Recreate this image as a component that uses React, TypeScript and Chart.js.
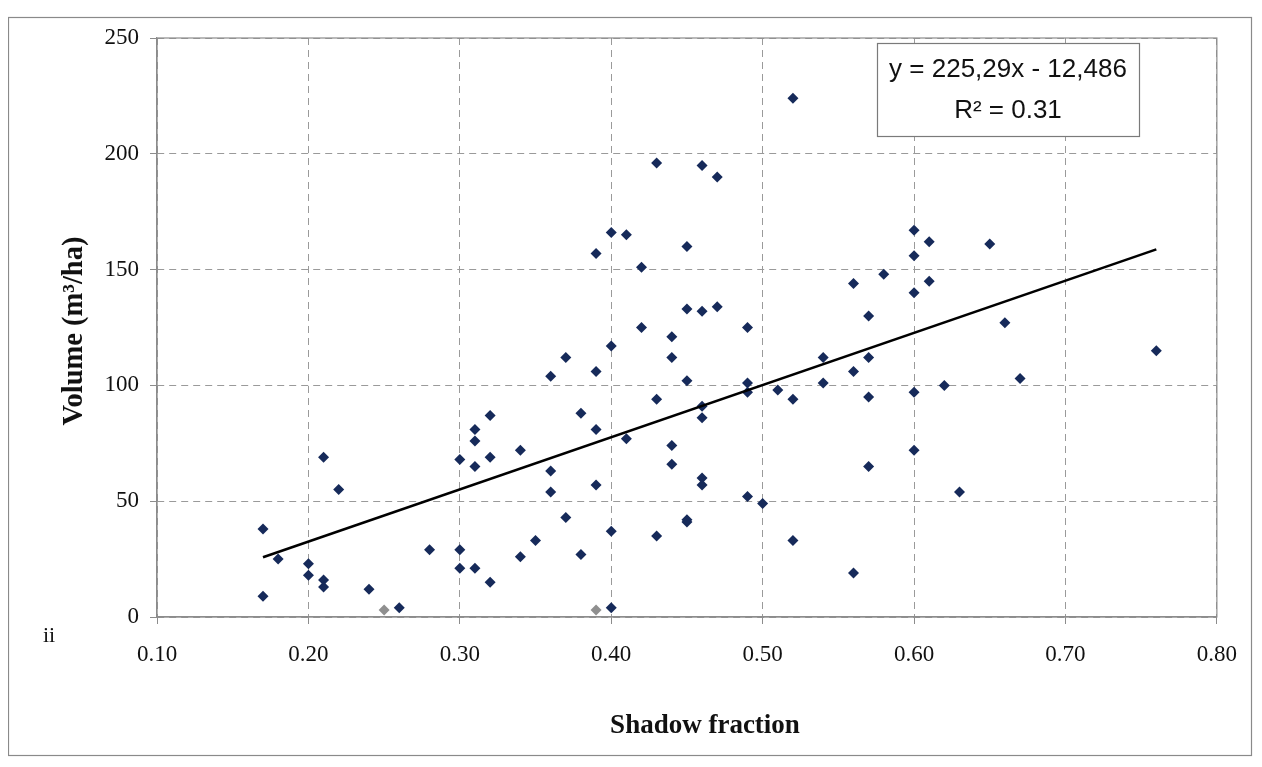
import React, { useEffect, useRef } from "react";
import { Chart, registerables } from "chart.js";

Chart.register(...registerables);

// Shadow fraction (x) and volume m3/ha (y) — main sample
const shadowFraction = [
  0.17, 0.17, 0.18, 0.20, 0.20, 0.21, 0.21, 0.21, 0.22, 0.24, 0.26, 0.28,
  0.30, 0.30, 0.30, 0.31, 0.31, 0.31, 0.31, 0.32, 0.32, 0.32, 0.34, 0.34,
  0.35, 0.36, 0.36, 0.36, 0.37, 0.37, 0.38, 0.38, 0.39, 0.39, 0.39, 0.39,
  0.40, 0.40, 0.40, 0.40, 0.41, 0.41, 0.42, 0.42, 0.43, 0.43, 0.43, 0.44,
  0.44, 0.44, 0.44, 0.45, 0.45, 0.45, 0.45, 0.45, 0.46, 0.46, 0.46, 0.46,
  0.46, 0.46, 0.47, 0.47, 0.49, 0.49, 0.49, 0.49, 0.50, 0.51, 0.52, 0.52,
  0.52, 0.54, 0.54, 0.56, 0.56, 0.56, 0.57, 0.57, 0.57, 0.57, 0.58, 0.60,
  0.60, 0.60, 0.60, 0.60, 0.61, 0.61, 0.62, 0.63, 0.65, 0.66, 0.67, 0.76,
];
const volume = [
  38, 9, 25, 23, 18, 69, 16, 13, 55, 12, 4, 29,
  68, 29, 21, 81, 76, 65, 21, 87, 69, 15, 72, 26,
  33, 104, 63, 54, 112, 43, 88, 27, 157, 106, 81, 57,
  166, 117, 37, 4, 165, 77, 151, 125, 196, 94, 35, 121,
  112, 74, 66, 160, 133, 102, 41, 42, 195, 132, 91, 86,
  60, 57, 190, 134, 125, 101, 97, 52, 49, 98, 224, 94,
  33, 112, 101, 144, 106, 19, 130, 112, 95, 65, 148, 167,
  156, 140, 97, 72, 162, 145, 100, 54, 161, 127, 103, 115,
];
// grey points
const greyShadow = [0.25, 0.39];
const greyVolume = [3, 3];

// regression shown in the box
const slope = 225.29;
const intercept = -12.486;
const trendRange = [0.17, 0.76];

const xTicks = [0.1, 0.2, 0.3, 0.4, 0.5, 0.6, 0.7, 0.8];
const yTicks = [0, 50, 100, 150, 200, 250];

const eqLine1 = "y = 225,29x - 12,486";
const eqLine2 = "R² = 0.31";
const xTitle = "Shadow fraction";
const yTitle = "Volume (m³/ha)";

const SERIF = "'Liberation Serif', 'Times New Roman', serif";
const SANS = "'Liberation Sans', Arial, sans-serif";

export default function App() {
  const ref = useRef<HTMLCanvasElement | null>(null);

  useEffect(() => {
    if (!ref.current) return;
    const blue = shadowFraction.map((x, i) => ({ x, y: volume[i] }));
    const grey = greyShadow.map((x, i) => ({ x, y: greyVolume[i] }));
    const trend = trendRange.map((x) => ({ x, y: slope * x + intercept }));

    const overlay = {
      id: "overlay",
      beforeDraw(chart: any) {
        const ctx = chart.ctx;
        ctx.save();
        ctx.fillStyle = "#ffffff";
        ctx.fillRect(0, 0, chart.width, chart.height);
        ctx.strokeStyle = "#8a8a8a";
        ctx.lineWidth = 1.2;
        ctx.strokeRect(0.5, 9.5, 1243, 738);
        ctx.restore();
      },
      afterDatasetsDraw(chart: any) {
        const ctx = chart.ctx;
        const a = chart.chartArea;
        ctx.save();
        // plot border
        ctx.strokeStyle = "#8c8c8c";
        ctx.lineWidth = 1.2;
        ctx.strokeRect(a.left, a.top, a.right - a.left, a.bottom - a.top);
        // equation box
        ctx.fillStyle = "#ffffff";
        ctx.fillRect(869, 35, 262, 93);
        ctx.strokeStyle = "#7a7a7a";
        ctx.lineWidth = 1.2;
        ctx.strokeRect(869.5, 35.5, 262, 93);
        ctx.fillStyle = "#111111";
        ctx.textAlign = "center";
        ctx.textBaseline = "middle";
        ctx.font = `26px ${SANS}`;
        ctx.fillText(eqLine1, 1000, 62);
        ctx.fillText(eqLine2, 1000, 103);
        // axis titles
        ctx.font = `bold 27px ${SERIF}`;
        ctx.fillText(xTitle, 697, 718);
        ctx.save();
        ctx.translate(67, 323);
        ctx.rotate(-Math.PI / 2);
        ctx.font = `bold 28.5px ${SERIF}`;
        ctx.fillText(yTitle, 0, 0);
        ctx.restore();
        // stray scan mark
        ctx.font = `22px ${SERIF}`;
        ctx.fillText("ii", 41, 628);
        ctx.restore();
      },
    };

    const grid = {
      color: "#9a9a9a",
      lineWidth: 1,
      tickLength: 7,
      tickColor: "#8c8c8c",
      tickBorderDash: [],
    };

    const chart = new Chart(ref.current, {
      type: "scatter",
      data: {
        datasets: [
          {
            type: "line",
            data: trend,
            borderColor: "#000000",
            borderWidth: 2.6,
            pointRadius: 0,
            fill: false,
            order: 0,
          } as any,
          {
            data: blue,
            pointStyle: "rectRot",
            pointRadius: 5.5,
            pointBackgroundColor: "#162a5a",
            pointBorderColor: "#162a5a",
            pointBorderWidth: 0,
            order: 1,
          },
          {
            data: grey,
            pointStyle: "rectRot",
            pointRadius: 5.5,
            pointBackgroundColor: "#8f8f8f",
            pointBorderColor: "#8f8f8f",
            pointBorderWidth: 0,
            order: 2,
          },
        ],
      },
      options: {
        animation: false,
        responsive: false,
        maintainAspectRatio: false,
        events: [],
        layout: { padding: { top: 30, right: 29, left: 0, bottom: 0 } },
        plugins: { legend: { display: false }, tooltip: { enabled: false } },
        scales: {
          x: {
            type: "linear",
            min: 0.1,
            max: 0.8,
            afterFit: (s: any) => {
              s.height = 150;
            },
            afterBuildTicks: (s: any) => {
              s.ticks = xTicks.map((v) => ({ value: v }));
            },
            ticks: {
              color: "#111111",
              font: { family: SERIF, size: 23 },
              padding: 17,
              maxRotation: 0,
              callback: (v: any) => Number(v).toFixed(2),
            },
            grid: { ...grid },
            border: { display: true, color: "#8c8c8c", width: 1.2, dash: [7, 5] },
          } as any,
          y: {
            type: "linear",
            min: 0,
            max: 250,
            afterFit: (s: any) => {
              s.width = 149;
            },
            afterBuildTicks: (s: any) => {
              s.ticks = yTicks.map((v) => ({ value: v }));
            },
            ticks: {
              color: "#111111",
              font: { family: SERIF, size: 23 },
              padding: 11,
            },
            grid: { ...grid },
            border: { display: true, color: "#8c8c8c", width: 1.2, dash: [7, 5] },
          } as any,
        },
      },
      plugins: [overlay],
    });
    return () => chart.destroy();
  }, []);

  return (
    <div style={{ width: 1246, height: 751 }}>
      <canvas ref={ref} width={1246} height={759} style={{ display: "block" }} />
    </div>
  );
}
